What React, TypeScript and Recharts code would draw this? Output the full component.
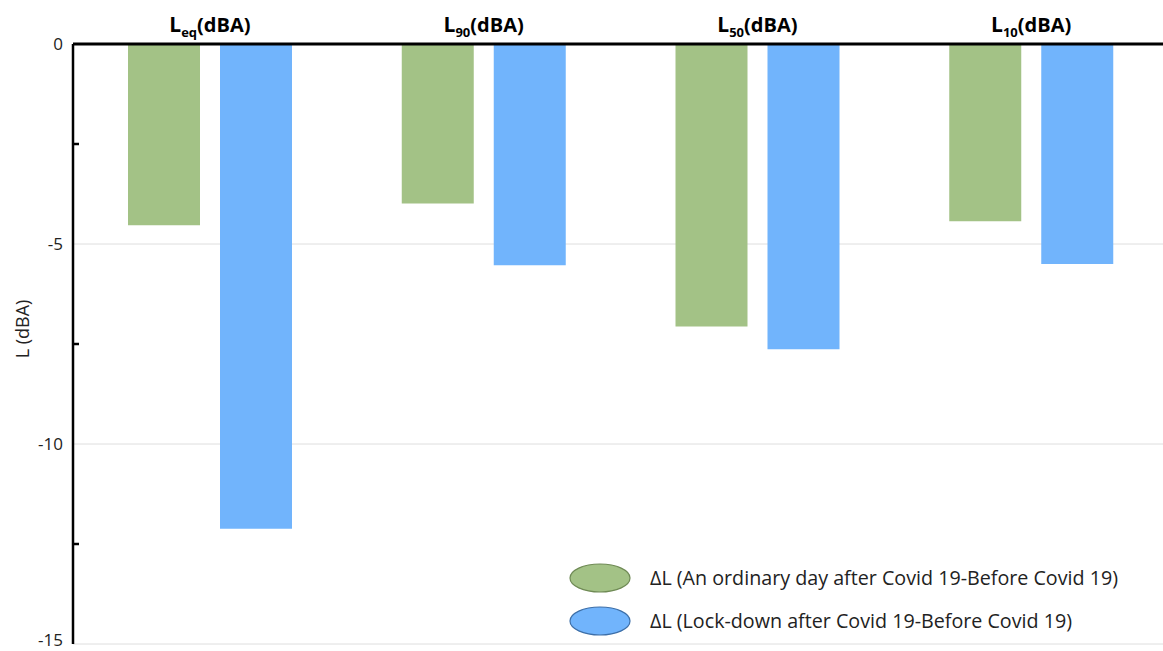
import { Bar, BarChart, CartesianGrid, Label, XAxis, YAxis } from 'recharts';

const metrics = ['eq', '90', '50', '10'];
const ordinaryDay = [-4.53, -3.99, -7.06, -4.43];
const lockDown = [-12.12, -5.53, -7.63, -5.5];
const yTicks = [0, -2.5, -5, -7.5, -10, -12.5, -15];

const GREEN = '#a3c286';
const BLUE = '#71b4fc';
const FONT = '"Open Sans", Calibri, sans-serif';

const data = metrics.map((m, i) => ({ name: m, ordinary: ordinaryDay[i], lockdown: lockDown[i] }));

const legendItems = [
  { label: 'ΔL (An ordinary day after Covid 19-Before Covid 19)', fill: GREEN, stroke: '#6f8a55' },
  { label: 'ΔL (Lock-down after Covid 19-Before Covid 19)', fill: BLUE, stroke: '#3d6fa8' },
];

function MetricTick({ x, y, payload }: any) {
  return (
    <text x={x} y={y - 4} textAnchor="middle" fontFamily={FONT} fontWeight={700} fill="#000">
      <tspan fontSize={21}>L</tspan>
      <tspan fontSize={13} dy={5}>{payload.value}</tspan>
      <tspan fontSize={20} dy={-5}>(dBA)</tspan>
    </text>
  );
}

function LevelTick({ x, y, payload }: any) {
  const v = payload.value;
  if (v % 5 !== 0) {
    // minor tick, drawn inward from the axis line
    return <line x1={x + 10} x2={x + 16} y1={y} y2={y} stroke="#000" strokeWidth={2.5} />;
  }
  // the bottom label sits right at the page edge, nudge it up so it stays whole
  const dy = v === -15 ? 2 : 6;
  return (
    <text x={x} y={y} dy={dy} textAnchor="end" fontFamily={FONT} fontSize={17} fill="#222">
      {v}
    </text>
  );
}

function EllipseLegend() {
  return (
    <div style={{ position: 'absolute', left: 567, top: 556, fontFamily: FONT }}>
      {legendItems.map((it) => (
        <div key={it.label} style={{ display: 'flex', alignItems: 'center', height: 43 }}>
          <svg width={66} height={32} style={{ marginRight: 17 }}>
            <ellipse cx={33} cy={16} rx={30} ry={14} fill={it.fill} stroke={it.stroke} strokeWidth={1.2} />
          </svg>
          <span style={{ fontSize: 19.7, color: '#222', whiteSpace: 'nowrap' }}>{it.label}</span>
        </div>
      ))}
    </div>
  );
}

export default function App() {
  return (
    <div style={{ position: 'absolute', left: 0, top: 0, width: 1163, height: 651, overflow: 'hidden', background: '#fff' }}>
      <BarChart
        width={1168}
        height={651}
        data={data}
        margin={{ top: 0, right: 0, bottom: 7, left: 0 }}
        barCategoryGap={55}
        barGap={20}
        barSize={72}
      >
        <CartesianGrid vertical={false} horizontalValues={[-5, -10, -15]} stroke="#dedede" strokeWidth={1} />
        <XAxis
          dataKey="name"
          orientation="top"
          height={44}
          axisLine={{ stroke: '#000', strokeWidth: 3 }}
          tickLine={false}
          tick={<MetricTick />}
          interval={0}
        />
        <YAxis
          type="number"
          domain={[-15, 0]}
          ticks={yTicks}
          width={73}
          interval={0}
          tickMargin={4}
          tickLine={false}
          axisLine={{ stroke: '#000', strokeWidth: 2.5 }}
          tick={<LevelTick />}
        >
          <Label value="L (dBA)" angle={-90} position="center" dx={-14} dy={-15} fontFamily={FONT} fontSize={18} fill="#222" />
        </YAxis>
        <Bar dataKey="ordinary" fill={GREEN} isAnimationActive={false} />
        <Bar dataKey="lockdown" fill={BLUE} isAnimationActive={false} />
      </BarChart>
      <EllipseLegend />
    </div>
  );
}
